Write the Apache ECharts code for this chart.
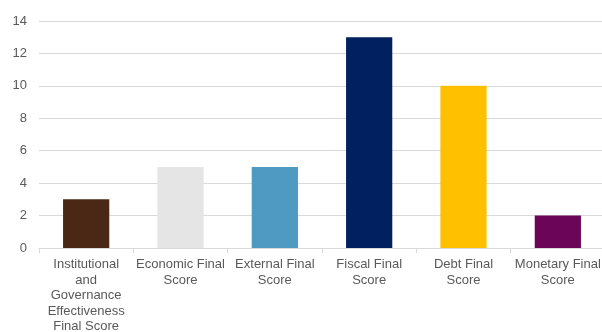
<!DOCTYPE html>
<html><head><meta charset="utf-8">
<script src="https://cdn.jsdelivr.net/npm/echarts@6/dist/echarts.min.js"></script>
<style>html,body{margin:0;padding:0;background:#fff}#c{width:602px;height:332px}</style>
</head><body><div id="c"></div>
<script>
const categories = [
  'Institutional\nand\nGovernance\nEffectiveness\nFinal Score',
  'Economic Final\nScore',
  'External Final\nScore',
  'Fiscal Final\nScore',
  'Debt Final\nScore',
  'Monetary Final\nScore'
];
const values = [3, 5, 5, 13, 10, 2];
const barColors = ['#4B2815', '#E5E5E5', '#4F9AC2', '#00205F', '#FFC000', '#6A0558'];
const yTicks = { min: 0, max: 14, interval: 2 };

const chart = echarts.init(document.getElementById('c'));
chart.setOption({
  animation: false,
  grid: { left: 39, top: 21, width: 566, height: 227, outerBoundsMode: 'none', containLabel: false },
  xAxis: {
    type: 'category',
    data: categories,
    axisLine: { lineStyle: { color: '#D9D9D9', width: 1 } },
    axisTick: { show: true, length: 5, lineStyle: { color: '#D9D9D9' } },
    axisLabel: { color: '#595959', fontSize: 13, fontFamily: 'Liberation Sans', lineHeight: 15.5, margin: 9, interval: 0 }
  },
  yAxis: {
    type: 'value',
    min: yTicks.min, max: yTicks.max, interval: yTicks.interval,
    axisLine: { show: false },
    axisTick: { show: false },
    splitLine: { lineStyle: { color: '#D9D9D9', width: 1 } },
    axisLabel: { color: '#595959', fontSize: 13, fontFamily: 'Liberation Sans', margin: 12 }
  },
  series: [{
    type: 'bar',
    barWidth: '49%',
    data: values.map((v, i) => ({ value: v, itemStyle: { color: barColors[i] } }))
  }]
});
</script></body></html>
